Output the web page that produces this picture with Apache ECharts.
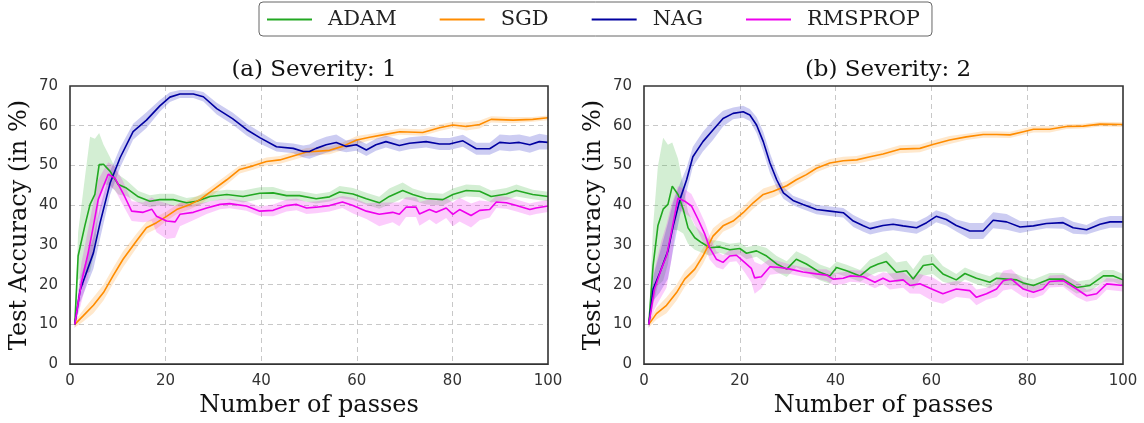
<!DOCTYPE html>
<html>
<head>
<meta charset="utf-8">
<script src="https://cdn.jsdelivr.net/npm/echarts@6/dist/echarts.min.js"></script>
<style>html,body{margin:0;padding:0;background:#fff}#c{width:1144px;height:423px}</style>
</head>
<body>
<div id="c"></div>
<script>
// Each point: [pass, mean accuracy, half-width of shaded band]
const names = ['ADAM', 'SGD', 'NAG', 'RMSPROP'];
const titles = ['(a) Severity: 1', '(b) Severity: 2'];
const xTicks = [0, 20, 40, 60, 80, 100];
const yTicks = [0, 10, 20, 30, 40, 50, 60, 70];

const adam1 = [[1,10,0.5],[1.7,27.2,6],[3.1,34.8,12],[4.2,40.2,17],[5.2,42.7,14],[6.1,50.2,8],[7,50.3,5],[8.4,48.5,3.5],[10.1,45.2,2.5],[11.8,44.3,2],[14.3,42.1,1.5],[16.7,41,1.5],[18.8,41.4,1.5],[21.6,41.4,1.5],[24.4,40.6,1.2],[26.5,41,1.2],[29.3,42.2,1.2],[32.8,42.7,1.2],[36.2,42.2,1.5],[39.7,43,1.5],[42.5,43.1,1.5],[45.3,42.4,1.2],[48,42.4,1.2],[51.5,41.6,1.2],[54.3,42.1,1.2],[56.4,43.3,1.5],[59.2,42.8,1.5],[62,41.6,1.5],[64.7,40.6,1.5],[66.8,42.2,2],[69.6,43.7,2],[71.7,42.7,1.5],[74.5,41.7,1.5],[78,41.4,1.5],[80.1,42.7,1.5],[82.9,43.7,1.5],[85.7,43.5,1.5],[88.1,42.2,1.5],[91.3,42.8,1.5],[93.4,43.7,1.5],[96.8,42.7,1.2],[100,42.2,1.2]];
const sgd1 = [[1,10,0.8],[2.8,12.2,1.5],[4.9,14.8,2],[7,18,2],[9,22.2,2],[11.1,26.4,2],[13.9,31,1.8],[16,34.3,1.5],[18.1,35.6,1.5],[20.2,37.2,1.2],[22.3,38.9,1.2],[25.1,40.2,1.2],[27.2,41.4,1.2],[30,43.9,1.2],[32.8,46.4,1.2],[35.5,49,1],[38.3,49.9,1],[41.1,51,1],[43.9,51.4,1],[46.7,52.4,1],[49.5,53.4,1],[54.3,53.8,1],[57,54.8,1],[60,56.4,1],[62.7,57.1,0.8],[65.4,57.7,0.8],[69,58.5,0.8],[73.8,58.3,0.8],[77.3,59.5,0.8],[80.1,60.2,0.8],[82.9,59.8,1],[85.7,60.3,1],[88.1,61.6,0.8],[92.7,61.4,0.8],[96.8,61.6,0.6],[100,62,0.6]];
const nag1 = [[1,10,1],[2.1,18.5,3],[4.9,28,4],[6.3,35.6,4],[8.4,45.6,3],[10.5,52,2.5],[13.2,58.5,2],[16,61.4,2],[18.8,65,1.5],[20.9,67.2,1.2],[23,68,1],[25.8,68,1],[27.9,67.3,1.2],[30.7,64.3,1.5],[34,61.8,1.5],[37,59,1.5],[39.7,57,1.5],[43.2,54.7,1.2],[46.7,54.3,1.2],[48.8,53.5,1.5],[50.1,53.5,1.8],[51.5,54.3,2],[53.6,55.2,2],[55.7,55.8,2],[57.8,54.8,1.5],[59.9,55.2,1.5],[62,53.9,1.5],[64,55.2,1.5],[66.1,56,1.5],[68.9,55,1.5],[71,55.6,1.5],[74.5,56,1.5],[77.3,55.4,1.5],[79.4,55.4,1.5],[82.2,56.2,1.5],[85,54.2,1.5],[87.8,54.2,1.5],[89.9,55.8,2],[92,55.6,2],[94,55.8,2],[96.2,55.2,2],[98.2,56,2],[100,55.8,1.8]];
const rms1 = [[1,10,1],[2.4,20.6,5],[3.8,28,6],[4.9,34.8,6],[5.9,41.4,5],[7,44.8,4],[8,47.8,3],[9.4,46.8,3],[11.1,43,3],[12.9,38.5,2.5],[15.3,38.2,2.5],[17.1,39,3],[18.1,37.2,4],[20.2,36,4.5],[22,35.8,4],[23,37.7,3],[25.8,38.2,2],[28.6,39.3,1.5],[31.4,40.2,1.2],[33.4,40.4,1.2],[36.9,39.8,1.2],[39.7,38.5,1.2],[42.5,38.7,1.5],[45.3,39.9,1.5],[47.4,40.2,1.5],[49.5,39.3,1.5],[51.5,39.5,1.5],[54.3,39.9,1.5],[57,40.8,1.5],[59.2,39.9,2],[62,38.5,2],[64.7,37.7,3],[67.5,38.2,2.5],[68.9,37.7,3],[70.3,39.5,2.5],[72.4,39.5,2.5],[73.1,37.8,3],[75.2,38.9,2.5],[76.6,38.2,3],[78.7,39.3,2.5],[80.1,37.7,3],[81.5,38.9,3],[83.9,37.4,3],[85.7,38.7,2.5],[87.8,38.9,2],[89.2,40.8,1.5],[91.3,40.6,1.5],[93.4,39.9,1.5],[96.2,38.9,1.5],[97.5,39.3,1.5],[100,39.8,1.5]];

const adam2 = [[1,10,1],[1.9,24.8,10],[2.9,34.8,15],[4,39,18],[5,40.2,15],[5.9,44.8,11],[7.1,42.7,9],[8.2,38.9,6],[9.2,34.3,4],[10.6,31.8,3],[12,30.6,2.5],[13.7,29.3,2],[15.8,29.5,1.5],[17.9,28.8,1.5],[20,29.1,1.5],[21.4,27.9,1.5],[23.5,28.5,1.5],[25.6,27.2,2],[27.7,25.2,2],[29.8,23.9,2],[31.8,26.4,2],[33.9,25.2,2],[36.7,23.1,2],[38.8,22.2,2],[40.2,24.3,1.5],[42.3,23.5,1.5],[45.1,22.2,1.5],[47.2,24.3,2],[48.9,25.2,2],[50.6,25.8,2.5],[52.7,23.1,2.5],[54.8,23.5,2.5],[56.2,21.4,2.5],[58.3,24.8,2.5],[60.3,25.2,2.5],[62.4,22.7,2],[65.2,21.2,1.5],[67,22.8,1.5],[69.4,21.6,1.5],[72.2,20.6,1.5],[73.6,21.6,1.5],[75.7,21.4,1.5],[77.8,21.2,1.5],[79.2,20.4,1.5],[81.3,19.8,1.5],[84.7,21.4,1.5],[87.5,21.4,1.5],[90.3,19.3,1.5],[93.1,19.8,1.5],[95.9,22.2,1.5],[98,22.2,1.5],[100,21.2,1.5]];
const sgd2 = [[1,10,0.8],[2.6,12.7,1.5],[4.7,14.8,2],[6.8,18,2],[8.5,21.4,2],[10.6,23.9,2],[12.3,27.2,2],[14.4,32.2,2],[16.5,34.8,1.5],[18.6,36,1.5],[20.7,38.1,1.5],[22.8,40.6,1.5],[24.9,42.7,1.5],[27,43.5,1.5],[29.8,44.9,1.2],[31.8,46.4,1.2],[33.9,47.7,1.2],[36,49.3,1],[38.8,50.6,1],[41.6,51.2,1],[44.4,51.4,1],[47.2,52.2,1],[49.9,52.9,1],[53.4,54.1,1],[57.6,54.3,1],[60.3,55.3,1],[63.8,56.4,1],[67.3,57.2,0.8],[70.8,57.8,0.8],[73.6,57.8,0.8],[76.4,57.7,0.8],[79.2,58.5,0.8],[81.3,59.1,0.8],[84.7,59.1,0.8],[88.2,59.8,0.6],[91.7,59.9,0.6],[95.2,60.4,0.6],[100,60.3,0.6]];
const nag2 = [[1,10,1],[1.9,18.9,3],[3.3,23,5],[5,28.5,7],[6.1,34.8,6],[7.5,41.4,4],[8.9,46.4,3],[10.2,52.2,2.5],[12.3,56,2.5],[14.4,58.9,2.5],[16.5,61.8,2],[18.6,63.1,1.5],[20.7,63.5,1.5],[22.1,62.7,1.5],[23.5,60.2,2],[24.9,56,2.5],[26.3,50.6,2.5],[27.7,46.4,2],[29.1,43.1,1.5],[31.1,41.2,1.2],[33.2,40.2,1.2],[36,38.9,1.2],[38.8,38.5,1.2],[41.6,38.1,1.2],[43.7,36,1.5],[45.8,34.8,1.5],[47.2,34.1,1.5],[49.9,34.9,1.5],[52,35.2,1.5],[54.1,34.8,1.5],[56.9,34.3,1.5],[59,35.6,1.5],[61,37.2,1.5],[63.1,36.4,1.5],[65.2,34.9,1.5],[68,33.5,2],[70.8,33.5,2],[72.9,36.2,2],[75.7,35.8,2],[78.5,34.5,1.5],[81.3,34.8,1.2],[84,35.4,1.2],[87.5,35.6,1.5],[89.6,34.3,1.5],[92.4,33.8,1.2],[95.2,35.2,1.5],[97.3,35.8,1.5],[100,35.8,1.5]];
const rms2 = [[1,10,1],[2.2,18.9,5],[3.6,23.9,7],[4.7,27.2,8],[5.7,33.1,7],[7.1,41.8,3],[8.5,41,3],[9.9,39.8,3],[11.3,36.4,3],[12.7,32.7,3],[13.7,29.3,3],[15.1,26.4,2],[16.5,25.6,1.8],[17.9,27.2,1.5],[19.3,27.4,1.5],[21,25.6,2.5],[22.4,24.1,3.5],[23.1,21.7,4],[24.5,22,3],[26.3,24.5,2],[28.4,24.3,1.5],[30.5,23.9,1.2],[33.2,23.2,1.2],[36,22.7,1.2],[38.1,22.4,1.5],[39.5,21.4,1.5],[41.6,21.6,1.5],[43,22.2,1.5],[45.8,22,1.5],[48.2,20.6,1.5],[49.9,21.6,1.5],[51.3,20.8,2],[54.1,21.2,2],[55.5,19.8,2],[57.6,20.2,2.5],[60.3,18.8,3],[62.4,17.7,2.5],[65.2,18.9,2],[68,18.5,2],[69.4,16.8,2],[71.5,17.7,1.5],[73.6,18.9,2],[75,21,2.5],[76.7,21.4,2.5],[79.2,18.9,2],[81.3,18.1,1.5],[83.3,18.9,1.5],[84.7,20.8,1.5],[87.5,21,1.5],[90.3,18.9,2],[92.4,17.2,1.5],[94.5,17.7,1.5],[96.6,20.2,1.5],[100,19.8,1.5]];

const colors = ['#22a822', '#ff8c00', '#0000a0', '#ee00ee'];
const bandColors = ['rgba(34,168,34,0.2)', 'rgba(255,140,0,0.2)', 'rgba(0,0,190,0.2)', 'rgba(238,0,238,0.2)'];
const panels = [[adam1, sgd1, nag1, rms1], [adam2, sgd2, nag2, rms2]];

const serif = 'DejaVu Serif';
const sans = 'DejaVu Sans';

const grids = [
  {left: 70, right: 596, top: 86, bottom: 57},
  {left: 644, right: 21, top: 86, bottom: 57}
].map(g => Object.assign(g, {show: true, borderColor: '#333', borderWidth: 1.6, backgroundColor: 'transparent', z: 5}));

const splitStyle = {show: true, showMinLine: false, showMaxLine: false, lineStyle: {color: '#c8c8c8', type: [5, 4], width: 1}};

const xAxes = [0, 1].map(i => ({
  type: 'value', gridIndex: i, min: 0, max: 100, interval: 20,
  name: 'Number of passes', nameLocation: 'middle', nameGap: 29,
  nameTextStyle: {fontFamily: serif, fontSize: 24, color: '#111'},
  axisLine: {show: false}, axisTick: {show: false},
  axisLabel: {fontFamily: sans, fontSize: 15, color: '#333', margin: 10},
  splitLine: splitStyle
}));
const yAxes = [0, 1].map(i => ({
  type: 'value', gridIndex: i, min: 0, max: 70, interval: 10,
  name: 'Test Accuracy (in %)', nameLocation: 'middle', nameGap: 38,
  nameTextStyle: {fontFamily: serif, fontSize: 24, color: '#111'},
  axisLine: {show: false}, axisTick: {show: false},
  axisLabel: {fontFamily: sans, fontSize: 15, color: '#333', margin: 12},
  splitLine: splitStyle
}));

const series = [];
panels.forEach((set, p) => {
  set.forEach((pts, k) => {
    series.push({
      type: 'custom', xAxisIndex: p, yAxisIndex: p, z: 1, silent: true,
      data: [0],
      renderItem: function (params, api) {
        const up = pts.map(d => api.coord([d[0], d[1] + d[2]]));
        const lo = pts.slice().reverse().map(d => api.coord([d[0], d[1] - d[2]]));
        return {type: 'polygon', shape: {points: up.concat(lo)}, style: {fill: bandColors[k]}};
      }
    });
  });
  set.forEach((pts, k) => {
    series.push({
      type: 'line', name: names[k], xAxisIndex: p, yAxisIndex: p, z: 3,
      data: pts.map(d => [d[0], d[1]]),
      showSymbol: false, symbol: 'none',
      lineStyle: {color: colors[k], width: 1.6}, itemStyle: {color: colors[k]}
    });
  });
});

const option = {
  animation: false,
  backgroundColor: '#fff',
  title: [
    {text: titles[0], left: 309, top: 54, textAlign: 'center', textStyle: {fontFamily: serif, fontSize: 23, fontWeight: 'normal', color: '#111'}},
    {text: titles[1], left: 883, top: 54, textAlign: 'center', textStyle: {fontFamily: serif, fontSize: 23, fontWeight: 'normal', color: '#111'}}
  ],
  legend: {
    data: names, left: 259, top: 2, orient: 'horizontal',
    icon: 'rect', itemWidth: 45, itemHeight: 2, itemGap: 43,
    padding: [7, 12, 6, 8],
    borderColor: '#666', borderWidth: 1, borderRadius: 4,
    textStyle: {fontFamily: serif, fontSize: 21, color: '#222', padding: [0, 0, 0, 11]}
  },
  grid: grids,
  xAxis: xAxes,
  yAxis: yAxes,
  series: series
};

const chart = echarts.init(document.getElementById('c'), null, {renderer: 'canvas'});
chart.setOption(option);
</script>
</body>
</html>
